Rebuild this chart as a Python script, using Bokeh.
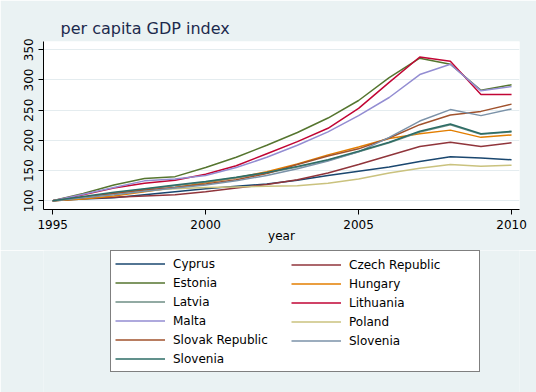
from bokeh.plotting import figure
from bokeh.layouts import column
from bokeh.models import Range1d, FixedTicker, Legend, LegendItem
from bokeh.embed import file_html
from bokeh.resources import INLINE

years = list(range(1995, 2011))
cyprus = [100, 103, 105, 110, 115, 120, 124, 128, 134, 142, 149, 156, 165, 173, 171, 168]
czech = [100, 104, 106, 108, 110, 115, 121, 127, 135, 146, 160, 175, 190, 197, 190, 196]
estonia = [100, 112, 126, 137, 140, 155, 172, 192, 213, 237, 266, 304, 336, 326, 283, 292]
hungary = [100, 103, 108, 115, 122, 130, 138, 148, 161, 176, 189, 203, 211, 217, 205, 209]
latvia = [100, 106, 113, 119, 125, 131, 138, 146, 156, 167, 181, 196, 214, 226, 210, 214]
lithuania = [100, 110, 121, 129, 134, 144, 158, 178, 198, 220, 253, 296, 338, 331, 276, 276]
malta = [100, 111, 122, 133, 136, 142, 155, 172, 192, 214, 241, 271, 309, 326, 282, 289]
poland = [100, 106, 112, 117, 120, 122, 123, 124, 125, 129, 136, 146, 154, 160, 157, 159]
slovak = [100, 106, 112, 118, 122, 128, 135, 145, 160, 174, 186, 204, 226, 242, 248, 260]
slovenia_a = [100, 105, 110, 116, 121, 126, 133, 142, 153, 166, 181, 205, 232, 251, 241, 252]
slovenia_b = [100, 107, 114, 120, 126, 132, 139, 147, 157, 168, 182, 197, 215, 227, 211, 215]

series = [
    ("Cyprus", cyprus, "#1a476f"),
    ("Czech Republic", czech, "#90353b"),
    ("Estonia", estonia, "#55752f"),
    ("Hungary", hungary, "#e37e00"),
    ("Latvia", latvia, "#6e8e84"),
    ("Lithuania", lithuania, "#c10534"),
    ("Malta", malta, "#938dd2"),
    ("Poland", poland, "#cac27e"),
    ("Slovak Republic", slovak, "#a0522d"),
    ("Slovenia", slovenia_a, "#7b92a8"),
    ("Slovenia", slovenia_b, "#2d6d66"),
]
x_ticks = [1995, 2000, 2005, 2010]
y_ticks = [100, 150, 200, 250, 300, 350]

BG = "#eaf2f3"
FONT = "DejaVu Sans"

p = figure(width=536, height=250, output_backend="svg", toolbar_location=None,
           x_range=Range1d(1994.7, 2010.26), y_range=Range1d(85.6, 363.7),
           min_border_left=43, min_border_right=17, min_border_top=41,
           min_border_bottom=41, background_fill_color="white",
           border_fill_color=BG, outline_line_color=None,
           title="per capita GDP index")

p.title.text_font = FONT
p.title.text_font_size = "16px"
p.title.text_font_style = "normal"
p.title.text_color = "#1c2a4d"
p.title.offset = 17
p.title.standoff = 7

for name, vals, col in series:
    p.line(years, vals, line_color=col, line_width=1.5)

p.xaxis.ticker = FixedTicker(ticks=x_ticks)
p.yaxis.ticker = FixedTicker(ticks=y_ticks)
p.xaxis.axis_label = "year"
for ax in (p.xaxis, p.yaxis):
    ax.axis_line_color = "black"
    ax.axis_line_width = 1
    ax.major_tick_line_color = "black"
    ax.major_tick_in = 0
    ax.major_tick_out = 5
    ax.minor_tick_line_color = None
    ax.major_label_text_font = FONT
    ax.major_label_text_font_size = "12px"
    ax.major_label_text_color = "black"
    ax.axis_label_text_font = FONT
    ax.axis_label_text_font_size = "12px"
    ax.axis_label_text_font_style = "normal"
    ax.axis_label_text_color = "black"
p.xaxis.major_label_standoff = 5
p.xaxis.axis_label_standoff = -3
p.yaxis.major_label_orientation = "vertical"
p.yaxis.major_label_standoff = 5

p.xgrid.grid_line_color = None
p.ygrid.grid_line_color = "#e4ecef"
p.ygrid.grid_line_width = 1

# legend panel (separate figure so the legend is not clipped)
p2 = figure(width=536, height=142, output_backend="svg", toolbar_location=None,
            x_range=Range1d(0, 1), y_range=Range1d(0, 1),
            x_axis_location=None, y_axis_location=None,
            min_border_left=43, min_border_right=17, min_border_top=0,
            min_border_bottom=0, background_fill_color=BG,
            border_fill_color=BG, outline_line_color=None)
p2.grid.visible = False

keys = []
for name, vals, col in series:
    # legend handles (same data, outside this panel's visible range)
    r = p2.line(years, vals, line_color=col, line_width=1.5)
    keys.append((name, r))

col1_idx = [0, 2, 4, 6, 8, 10]
col2_idx = [1, 3, 5, 7, 9]

common = dict(orientation="vertical", glyph_width=50, glyph_height=17,
              label_height=17, label_standoff=8, spacing=2, padding=4,
              margin=0, label_text_font=FONT, label_text_font_size="12px",
              label_text_color="black")

leg1 = Legend(items=[LegendItem(label=keys[i][0], renderers=[keys[i][1]]) for i in col1_idx],
              location=(67, 20), label_width=302,
              border_line_color="black", border_line_width=1,
              background_fill_color="white", background_fill_alpha=1, **common)
leg2 = Legend(items=[LegendItem(label=keys[i][0], renderers=[keys[i][1]]) for i in col2_idx],
              location=(248, 43), label_width=20,
              border_line_color=None, background_fill_alpha=0, **common)
p2.add_layout(leg1)
p2.add_layout(leg2)

layout = column(p, p2, spacing=0)
open("out.html", "w").write(file_html(layout, INLINE))
